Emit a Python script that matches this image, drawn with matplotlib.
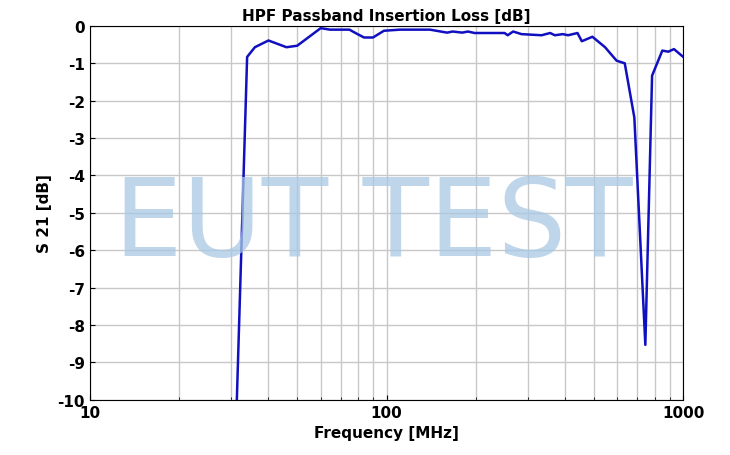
import matplotlib.pyplot as plt
from matplotlib.ticker import FixedLocator, NullFormatter

# data
freq_mhz = [31.3, 33.9, 36, 40, 46, 50, 60, 64.5, 75, 79, 84, 90, 98, 111, 140,
            160, 167, 180, 188, 198, 250, 256, 267, 285, 333, 356, 369, 393, 409,
            440, 455, 494, 545, 596, 635, 684, 745, 785, 850, 890, 930, 1000]
s21_db = [-10, -0.83, -0.57, -0.39, -0.57, -0.53, -0.06, -0.1, -0.1, -0.2, -0.31,
          -0.31, -0.13, -0.1, -0.1, -0.18, -0.15, -0.18, -0.15, -0.19, -0.19,
          -0.25, -0.15, -0.22, -0.25, -0.19, -0.25, -0.22, -0.25, -0.19, -0.41,
          -0.29, -0.57, -0.93, -1.0, -2.45, -8.53, -1.33, -0.66, -0.69, -0.62, -0.83]
y_ticks = list(range(-10, 1))

fig = plt.figure(figsize=(7.3, 4.56), dpi=100)
ax = fig.add_axes([0.123, 0.121, 0.813, 0.82])
ax.plot(freq_mhz, s21_db, color="#1010c0", lw=1.8, zorder=3)
ax.set_xscale("log")
ax.set_xlim(10, 1000)
ax.set_ylim(-10, 0)
ax.set_yticks(y_ticks)
ax.set_yticklabels([str(v) for v in y_ticks])
ax.set_xticks([10, 100, 1000])
ax.set_xticklabels(["10", "100", "1000"])
ax.xaxis.set_minor_locator(FixedLocator([m * d for d in (10, 100) for m in range(2, 10)]))
ax.xaxis.set_minor_formatter(NullFormatter())
ax.grid(True, which="both", color="#c8c8c8", lw=1)
ax.tick_params(direction="in", labelsize=11, which="both")
for lbl in ax.get_xticklabels() + ax.get_yticklabels():
    lbl.set_fontweight("bold")
ax.set_title("HPF Passband Insertion Loss [dB]", fontsize=11, fontweight="bold", pad=4)
ax.set_xlabel("Frequency [MHz]", fontsize=11, fontweight="bold")
ax.set_ylabel("S 21 [dB]", fontsize=11, fontweight="bold")
fig.text(0.511, 0.505, "EUT TEST", fontsize=78, color="#a8c8e4", alpha=0.75,
         ha="center", va="center", family=["Liberation Sans Narrow", "DejaVu Sans"],
         zorder=5)
fig.savefig("out.png")
